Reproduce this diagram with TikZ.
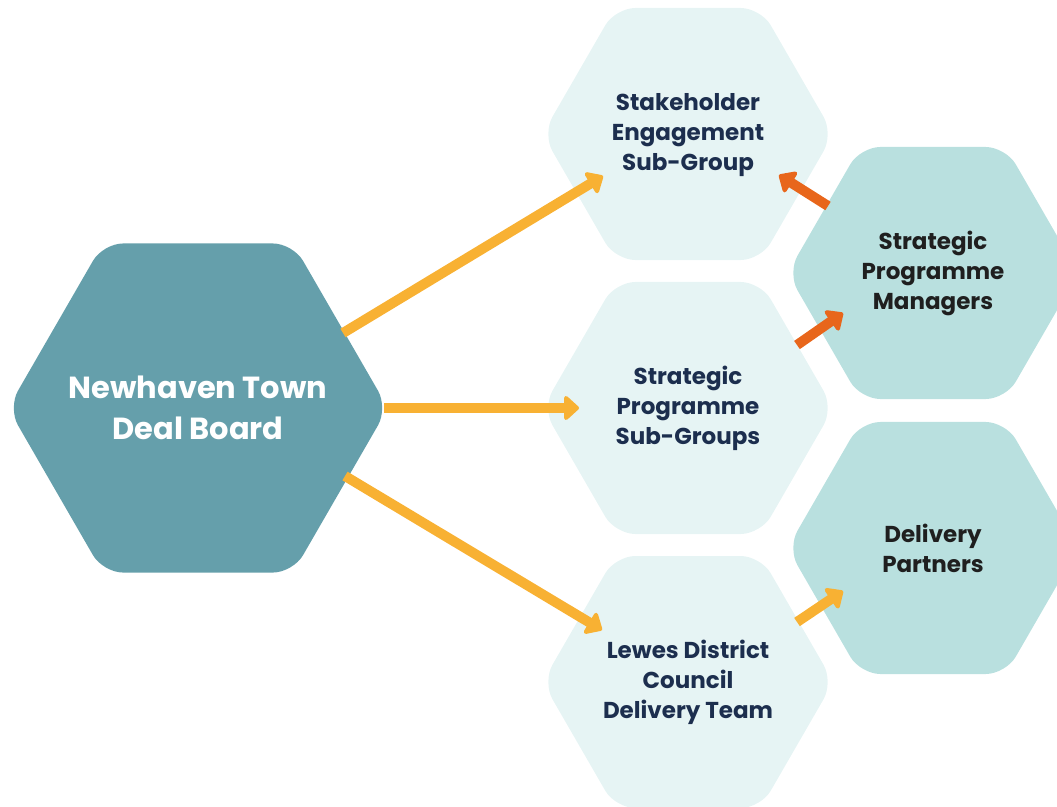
\documentclass[tikz,border=0pt]{standalone}
\usepackage{fontspec}
\setmainfont{Poppins}
\usetikzlibrary{shapes.geometric,arrows.meta}
\definecolor{boardc}{HTML}{659FAB}
\definecolor{lightc}{HTML}{E6F4F4}
\definecolor{midc}{HTML}{B9E0DF}
\definecolor{yelc}{HTML}{F8B133}
\definecolor{orac}{HTML}{E8661B}
\definecolor{navyc}{HTML}{1C2E4E}
\definecolor{darkc}{HTML}{1F1F1F}
\tikzset{
  hexbase/.style={regular polygon, regular polygon sides=6, inner sep=0pt, rounded corners=20pt},
  hexmain/.style={hexbase, fill=boardc, minimum size=380pt},
  hexlight/.style={hexbase, fill=lightc, minimum size=291pt},
  hexmid/.style={hexbase, fill=midc, minimum size=291pt},
  maintext/.style={text=white, align=center, font=\bfseries\fontsize{30.5}{41}\selectfont},
  subtext/.style={text=navyc, align=center, font=\bfseries\fontsize{23}{30}\selectfont},
  midtext/.style={text=darkc, align=center, font=\bfseries\fontsize{23}{30}\selectfont},
  yarrow/.style={draw=yelc, line width=10pt, -{Triangle[length=16pt,width=28pt,round]}},
  oarrow/.style={draw=orac, line width=10pt, -{Triangle[length=16pt,width=28pt,round]}},
}
\begin{document}
\begin{tikzpicture}[x=1pt,y=-1pt]
\useasboundingbox (0,0) rectangle (1057,806);
\clip (0,0) rectangle (1057,806);
\node[hexmain] (board) at (198,408) {};
\node[hexlight] (stake) at (688,134) {};
\node[hexlight] (subg) at (688,408) {};
\node[hexlight] (lewes) at (688,682) {};
\node[hexmid] (spm) at (933,273) {};
\node[hexmid] (dp) at (933,548) {};
\node[maintext] (tboard) at (board) {Newhaven Town\\Deal Board};
\node[subtext] (tstake) at ([yshift=-1pt]stake) {Stakeholder\\Engagement\\Sub-Group};
\node[subtext] (tsubg) at (subg) {Strategic\\Programme\\Sub-Groups};
\node[subtext] (tlewes) at (lewes) {Lewes District\\Council\\Delivery Team};
\node[midtext] (tspm) at (spm) {Strategic\\Programme\\Managers};
\node[midtext] (tdp) at (dp) {Delivery\\Partners};
\coordinate (a1s) at (343,333);
\coordinate (a1e) at (603,176);
\coordinate (a2s) at (384,408);
\coordinate (a2e) at (579,408);
\coordinate (a3s) at (345,476);
\coordinate (a3e) at (602,630);
\coordinate (a4s) at (828,206);
\coordinate (a4e) at (779,175);
\coordinate (a5s) at (797,345);
\coordinate (a5e) at (843,313);
\coordinate (a6s) at (797,622);
\coordinate (a6e) at (843,591);
\draw[yarrow] (a1s) -- (a1e);
\draw[yarrow] (a2s) -- (a2e);
\draw[yarrow] (a3s) -- (a3e);
\draw[oarrow] (a4s) -- (a4e);
\draw[oarrow] (a5s) -- (a5e);
\draw[yarrow] (a6s) -- (a6e);
\end{tikzpicture}
\end{document}
